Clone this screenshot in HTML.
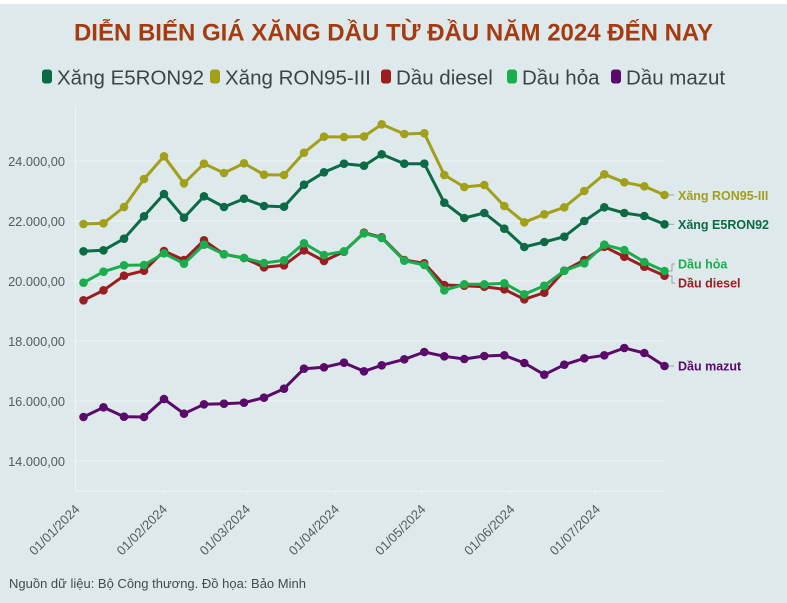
<!DOCTYPE html>
<html>
<head>
<meta charset="utf-8">
<style>
  html,body{margin:0;padding:0;}
  body{width:787px;height:603px;background:#dde9ea;overflow:hidden;font-family:"Liberation Sans","DejaVu Sans",sans-serif;}
  svg{display:block;}
</style>
</head>
<body>
<svg width="787" height="603" viewBox="0 0 787 603" xmlns="http://www.w3.org/2000/svg">
  <defs>
    <marker id="mE5" markerWidth="10" markerHeight="10" refX="5" refY="5" markerUnits="userSpaceOnUse"><circle cx="5" cy="5" r="4.3" fill="#0c6a46"/></marker>
    <marker id="mR95" markerWidth="10" markerHeight="10" refX="5" refY="5" markerUnits="userSpaceOnUse"><circle cx="5" cy="5" r="4.3" fill="#a29f1a"/></marker>
    <marker id="mDi" markerWidth="10" markerHeight="10" refX="5" refY="5" markerUnits="userSpaceOnUse"><circle cx="5" cy="5" r="4.3" fill="#9a1d22"/></marker>
    <marker id="mHo" markerWidth="10" markerHeight="10" refX="5" refY="5" markerUnits="userSpaceOnUse"><circle cx="5" cy="5" r="4.3" fill="#1aad4e"/></marker>
    <marker id="mMa" markerWidth="10" markerHeight="10" refX="5" refY="5" markerUnits="userSpaceOnUse"><circle cx="5" cy="5" r="4.3" fill="#5a0b6a"/></marker>
  </defs>

  <rect x="0" y="0" width="787" height="603" fill="#dde9ea"/>
  <rect x="0" y="0" width="787" height="4" fill="#ffffff"/>

  <!-- Title -->
  <text x="393.5" y="40.7" text-anchor="middle" font-family="Liberation Sans, sans-serif" font-weight="bold" font-size="24" fill="#a63b10">DIỄN BIẾN GIÁ XĂNG DẦU TỪ ĐẦU NĂM 2024 ĐẾN NAY</text>

  <!-- Legend -->
  <g font-family="Liberation Sans, sans-serif" font-size="20.5" fill="#3d4449">
    <rect x="42" y="69.5" width="10" height="14" rx="3" fill="#0c6a46"/>
    <text x="57" y="84.3">Xăng E5RON92</text>
    <rect x="210" y="69.5" width="10" height="14" rx="3" fill="#a29f1a"/>
    <text x="225" y="84.3">Xăng RON95-III</text>
    <rect x="381" y="69.5" width="10" height="14" rx="3" fill="#9a1d22"/>
    <text x="396" y="84.3">Dầu diesel</text>
    <rect x="507" y="69.5" width="10" height="14" rx="3" fill="#1aad4e"/>
    <text x="522" y="84.3">Dầu hỏa</text>
    <rect x="611" y="69.5" width="10" height="14" rx="3" fill="#5a0b6a"/>
    <text x="626" y="84.3">Dầu mazut</text>
  </g>

  <!-- Gridlines -->
  <g stroke="#eef4f4" stroke-width="1">
    <line x1="73" y1="161" x2="665" y2="161"/>
    <line x1="73" y1="221" x2="665" y2="221"/>
    <line x1="73" y1="281" x2="665" y2="281"/>
    <line x1="73" y1="341" x2="665" y2="341"/>
    <line x1="73" y1="401" x2="665" y2="401"/>
    <line x1="73" y1="461" x2="665" y2="461"/>
    <line x1="75.5" y1="106" x2="75.5" y2="491"/>
    <line x1="75" y1="491" x2="665" y2="491"/>
  </g>
  <!-- x ticks -->
  <g stroke="#eef4f4" stroke-width="1">
    <line x1="164" y1="491" x2="164" y2="495"/>
    <line x1="247" y1="491" x2="247" y2="495"/>
    <line x1="335" y1="491" x2="335" y2="495"/>
    <line x1="421.5" y1="491" x2="421.5" y2="495"/>
    <line x1="510" y1="491" x2="510" y2="495"/>
    <line x1="595" y1="491" x2="595" y2="495"/>
  </g>

  <!-- Y labels -->
  <g font-family="Liberation Sans, sans-serif" font-size="12.8" fill="#555b60" text-anchor="end">
    <text x="65" y="166">24.000,00</text>
    <text x="65" y="226">22.000,00</text>
    <text x="65" y="286">20.000,00</text>
    <text x="65" y="346">18.000,00</text>
    <text x="65" y="406">16.000,00</text>
    <text x="65" y="466">14.000,00</text>
  </g>

  <!-- X labels -->
  <g font-family="Liberation Sans, sans-serif" font-size="13" fill="#555b60" text-anchor="end">
    <text transform="translate(80.5,510) rotate(-45)">01/01/2024</text>
    <text transform="translate(168,510) rotate(-45)">01/02/2024</text>
    <text transform="translate(251,510) rotate(-45)">01/03/2024</text>
    <text transform="translate(340,510) rotate(-45)">01/04/2024</text>
    <text transform="translate(426.5,510) rotate(-45)">01/05/2024</text>
    <text transform="translate(515.5,510) rotate(-45)">01/06/2024</text>
    <text transform="translate(601,510) rotate(-45)">01/07/2024</text>
  </g>

  <!-- Series -->
  <g fill="none" stroke-width="3" stroke-linejoin="round" stroke-linecap="round">
    <polyline stroke="#0c6a46" marker-start="url(#mE5)" marker-mid="url(#mE5)" marker-end="url(#mE5)"
      points="83.5,251.3 103.5,250.3 124,238.7 144,216.3 164,194 184,217.7 204,196.3 224,207 244,198.7 264,206 284,206.7 304,184.7 324,172.3 344,163.7 364,165.7 381.7,154.3 404.3,163.7 424.3,163.7 444.3,202.7 464.3,218 484.3,213 504.3,228.7 524.3,247 544.3,242 564.3,236.7 584.3,221 604.3,207.3 624.3,213 644.3,216 664.5,224.3"/>
    <polyline stroke="#a29f1a" marker-start="url(#mR95)" marker-mid="url(#mR95)" marker-end="url(#mR95)"
      points="83.5,224 103.5,223.3 124,207 144,179 164,156.3 184,183.3 204,163.7 224,173 244,163.3 264,174.7 284,175 304,152.7 324,136.7 344,137 364,136.5 381.7,124.3 404.3,134 424.3,133.3 444.3,175 464.3,187 484.3,185 504.3,206 524.3,222.3 544.3,214.3 564.3,207.3 584.3,191 604.3,174.3 624.3,182.3 644.3,186.3 664.5,195"/>
    <polyline stroke="#9a1d22" marker-start="url(#mDi)" marker-mid="url(#mDi)" marker-end="url(#mDi)"
      points="83.5,300.3 103.5,290.3 124,275.7 144,270.7 164,251 184,260 204,240.3 224,254.3 244,258 264,267.3 284,265.3 304,250.3 324,261 344,251.7 364,232.7 381.7,237.3 404.3,260 424.3,263.3 444.3,285 464.3,285.7 484.3,286.7 504.3,289.3 524.3,299.3 544.3,292.7 564.3,270.7 584.3,260 604.3,246.7 624.3,256.7 644.3,266.7 664.5,275.7"/>
    <polyline stroke="#1aad4e" marker-start="url(#mHo)" marker-mid="url(#mHo)" marker-end="url(#mHo)"
      points="83.5,282.7 103.5,271.7 124,265.3 144,265 164,253.3 184,263.7 204,244.7 224,254.3 244,258 264,263 284,260.3 304,243.3 324,255 344,251.3 364,233.3 381.7,238 404.3,260.7 424.3,265 444.3,290.3 464.3,284.3 484.3,284.3 504.3,283.3 524.3,294.3 544.3,285.7 564.3,270.7 584.3,263.3 604.3,244.7 624.3,250 644.3,262 664.5,271"/>
    <polyline stroke="#5a0b6a" marker-start="url(#mMa)" marker-mid="url(#mMa)" marker-end="url(#mMa)"
      points="83.5,417 103.5,407.3 124,416.7 144,417 164,399 184,413.7 204,404.3 224,403.7 244,402.7 264,397.7 284,388.7 304,368.7 324,367.3 344,362.7 364,371.3 381.7,365.3 404.3,359.3 424.3,352 444.3,356.3 464.3,359 484.3,356 504.3,355.3 524.3,363 544.3,374.7 564.3,364.7 584.3,358.3 604.3,355.3 624.3,348 644.3,353 664.5,366"/>
  </g>

  <!-- Right label connectors -->
  <g stroke="#9aa3a6" stroke-width="1" fill="none">
    <line x1="669" y1="195" x2="674" y2="195"/>
    <line x1="669" y1="224.3" x2="674" y2="224.3"/>
    <line x1="669" y1="366" x2="674" y2="366"/>
    <polyline points="669,271 672,271 672,264 675,264"/>
    <polyline points="669,276 672,276 672,283 675,283"/>
  </g>

  <!-- Right labels -->
  <g font-family="Liberation Sans, sans-serif" font-weight="bold" font-size="12.5">
    <text x="678" y="200" fill="#a29f1a">Xăng RON95-III</text>
    <text x="678" y="229" fill="#0c6a46">Xăng E5RON92</text>
    <text x="678" y="268.5" fill="#1aad4e">Dầu hỏa</text>
    <text x="678" y="287.5" fill="#9a1d22">Dầu diesel</text>
    <text x="678" y="370.5" fill="#5a0b6a">Dầu mazut</text>
  </g>

  <!-- Footer -->
  <text x="9" y="588" font-family="Liberation Sans, sans-serif" font-size="13" fill="#444a4f">Nguồn dữ liệu: Bộ Công thương. Đồ họa: Bảo Minh</text>
</svg>
</body>
</html>
